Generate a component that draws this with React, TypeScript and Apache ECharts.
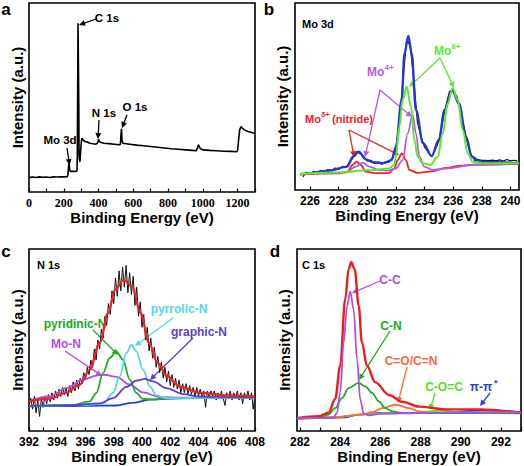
import React, { useEffect, useRef } from "react";
import * as echarts from "echarts";

// ---------- Panel a: survey spectrum [eV, intensity %] ----------
const surveySpectrum: number[][] = [
  [0, 7.6], [20, 7.9], [40, 7.7], [60, 8.0], [80, 7.8], [100, 7.9], [120, 7.7], [140, 8.0], [160, 7.9],
  [180, 8.1], [200, 8.0], [220, 8.1], [224, 9.0], [227, 13], [230, 15.5], [233, 13], [236, 11], [245, 10.9],
  [260, 10.9], [272, 11], [276, 11.2], [278, 20], [280, 55], [282, 89.3], [285, 89.3], [286.5, 45], [288, 19],
  [290, 17.5], [293, 16], [296, 20], [300, 25.5], [304, 28.5], [308, 27.8], [320, 26.8], [335, 26.5],
  [350, 25.8], [370, 25.5], [385, 25.3], [395, 26], [400, 28], [404, 27], [410, 26.3], [430, 25.8],
  [460, 25.6], [490, 25.3], [520, 25], [526, 25.3], [529, 30], [532, 33.5], [535, 27], [540, 25.8],
  [580, 25.3], [620, 24.8], [660, 24.5], [700, 24.1], [740, 23.7], [780, 23.3], [820, 22.9], [860, 22.6],
  [900, 22.3], [940, 22], [960, 21.8], [968, 23], [975, 25], [985, 23], [1000, 22.3], [1040, 22],
  [1080, 21.8], [1120, 21.6], [1160, 21.5], [1195, 21.3], [1200, 22], [1205, 27], [1212, 33], [1220, 34.6],
  [1230, 33.5], [1245, 32.5], [1260, 32], [1280, 31.5], [1300, 31],
];
const surveyLabels = [0, 200, 400, 600, 800, 1000, 1200];
const surveyTicks = [0, 100, 200, 300, 400, 500, 600, 700, 800, 900, 1000, 1100, 1200, 1300];

// ---------- Panel b: Mo 3d ----------
const mo3dRawStart = 225.5;
const mo3dRawStep = 0.25;
const mo3dRawValues = [
  7.0, 9.5, 8.2, 10.0, 9.0, 10.5, 9.6, 11.0, 10.2, 11.8, 11.0, 12.6, 12.0, 14.5, 17.2, 20.6, 19.4, 18.0,
  15.5, 15.9, 14.2, 15.0, 13.8, 15.0, 14.8, 17.2, 22.4, 36.8, 59.4, 80.5, 77.2, 58.8, 36.4, 28.6, 23.0,
  20.2, 17.8, 21.6, 26.0, 36.2, 45.4, 52.8, 52.6, 50.2, 42.4, 34.2, 25.0, 19.1, 15.8, 16.2, 15.8, 15.9,
  15.7, 16.0, 15.6, 16.1, 15.5, 16.3, 15.6, 15.9, 15.4,
];
const mo3dEnvelope: number[][] = [
  [225.3, 8.4], [225.5, 8.6], [227.3, 10.3], [228.6, 12.5], [229.0, 17.8], [229.4, 20.5], [229.9, 16.4],
  [230.4, 14.8], [231.1, 14.3], [231.7, 16], [232.0, 23], [232.4, 48], [232.6, 73], [232.87, 82.4],
  [233.1, 73], [233.4, 42.8], [233.9, 25], [234.5, 18.2], [235.0, 26.7], [235.4, 42.8], [235.93, 53.5],
  [236.4, 46.4], [236.9, 28.5], [237.3, 17.8], [237.9, 15.1], [239.1, 14.8], [240.6, 14.3],
];
const mo3dNitride: number[][] = [
  [225.3, 8.4], [228.0, 8.9], [228.62, 9.8], [228.97, 13.4], [229.25, 15.1], [229.55, 13.4], [229.9, 9.8],
  [230.5, 9.0], [231.5, 9.0], [231.89, 11.6], [232.12, 16.0], [232.42, 19.6], [232.7, 16.0], [232.94, 10.7],
  [233.5, 9.2], [234.5, 10.0], [235.5, 11.8], [236.5, 13.0], [237.5, 13.6], [240.6, 14.0],
];
const mo3dMo4: number[][] = [
  [225.3, 8.6], [228.5, 9.3], [229.2, 12.5], [229.67, 14.6], [230.14, 12.5], [230.84, 10.7], [231.5, 10.5],
  [232.0, 11.5], [232.47, 16.0], [232.82, 30.3], [233.17, 40.1], [233.4, 30.3], [233.64, 17.8],
  [233.99, 12.5], [234.57, 10.7], [235.5, 11.5], [237.5, 13.5], [240.6, 14.2],
];
const mo3dMo6: number[][] = [
  [225.3, 8.6], [228, 9.4], [230, 10.5], [231.5, 11.5], [231.89, 13.4], [232.0, 17.8], [232.24, 33.9],
  [232.47, 48.1], [232.75, 55.3], [233.05, 44.6], [233.29, 26.7], [233.52, 17.8], [233.87, 14.3],
  [234.4, 13.4], [234.92, 17.8], [235.27, 30.3], [235.62, 46.4], [235.97, 54.4], [236.32, 48.1],
  [236.67, 32.1], [237.02, 19.6], [237.37, 15.1], [238.07, 14.3], [240.6, 14.3],
];
const mo3dLabels = [226, 228, 230, 232, 234, 236, 238, 240];

// ---------- Panel c: N 1s ----------
const n1sRawStart = 392;
const n1sRawStep = 0.125;
const n1sRawValues = [
  14, 18, 12, 19, 10, 17, 8, 18, 13, 19, 15, 20, 16, 21, 17, 22, 18, 23, 19, 24, 20, 24, 19, 25, 21, 27,
  22, 28, 23, 29, 26, 32, 28, 35, 31, 39, 35, 45, 39, 50, 45, 56, 51, 63, 58, 70, 64, 77, 70, 84, 74, 88,
  77, 90, 79, 91, 76, 87, 75, 85, 69, 79, 63, 71, 57, 64, 50, 57, 44, 51, 40, 46, 35, 41, 32, 38, 29, 35,
  27, 33, 25, 31, 24, 29, 23, 28, 21, 26, 21, 26, 20, 25, 20, 24, 19, 24, 19, 23, 18, 22, 13, 22, 18, 22,
  19, 22, 17, 21, 18, 22, 18, 14, 21, 18, 22, 17, 21, 18, 22, 17, 21, 15, 21, 18, 22, 17, 21, 12, 20,
];
const n1sEnvelope: number[][] = [
  [392, 16.3], [393.45, 17.8], [394.6, 20.9], [395.6, 25.5], [396.3, 33.7], [397.0, 48.4], [397.6, 64.8],
  [398.1, 77.7], [398.7, 83.1], [399.3, 79.5], [399.9, 64.8], [400.5, 48.4], [401.1, 37.4], [401.8, 30],
  [402.7, 24.2], [404.2, 20.9], [406, 19.6], [408, 19.1],
];
const n1sBackground: number[][] = [
  [392, 13.6], [394, 13.7], [396, 13.8], [398.2, 14.0], [399.3, 15.4], [400.55, 17.2], [402.9, 18.1], [408, 18.5],
];
const n1sMoN: number[][] = [
  [392, 16.3], [393.47, 19.1], [394.65, 23.6], [395.82, 28.2], [396.77, 30.4], [397.36, 30.9], [398.19, 29.7],
  [399.13, 25.5], [400.07, 21.2], [401.25, 18.6], [402.9, 18.3], [404.5, 18.4], [408, 18.6],
];
const n1sPyridinic: number[][] = [
  [392, 13.8], [395, 14.2], [396.3, 16.3], [396.77, 20.9], [397.24, 31.9], [397.71, 40.1], [398.19, 43.8],
  [398.65, 39.2], [399.13, 28.2], [399.6, 20.9], [400.07, 17.6], [400.78, 17.4], [402, 18.0], [408, 18.5],
];
const n1sPyrrolic: number[][] = [
  [392, 13.8], [396, 14.2], [397.24, 15.0], [397.95, 20.9], [398.42, 30.0], [398.9, 42.9], [399.25, 47.4],
  [399.6, 43.8], [400.07, 33.7], [400.55, 24.5], [401.02, 19.6], [401.73, 18.0], [403, 18.2], [408, 18.5],
];
const n1sGraphic: number[][] = [
  [392, 13.8], [395, 14.2], [397.0, 15.2], [397.95, 18.1], [398.9, 24.2], [399.6, 27.7], [400.19, 28.6],
  [400.78, 27.3], [401.73, 23.6], [402.9, 20.3], [404.08, 18.9], [406.44, 18.6], [408, 18.6],
];
const n1sLabels = [392, 394, 396, 398, 400, 402, 404, 406, 408];
const n1sTicks = [392, 393, 394, 395, 396, 397, 398, 399, 400, 401, 402, 403, 404, 405, 406, 407, 408];

// ---------- Panel d: C 1s ----------
const c1sEnvelope: number[][] = [
  [281.85, 7.1], [282.92, 8.1], [283.42, 10], [283.75, 17.6], [284.0, 35.9], [284.25, 72.5], [284.42, 88.9],
  [284.55, 92.7], [284.72, 88.9], [284.92, 68.9], [285.08, 48.7], [285.33, 35.9], [285.75, 26.7],
  [286.42, 19.8], [287.08, 16.1], [287.92, 13.4], [289.25, 11.9], [290.92, 11.9], [293.0, 10],
];
const c1sCC: number[][] = [
  [281.85, 7.1], [283.5, 7.2], [283.67, 7.4], [283.84, 9.9], [284.0, 20.9], [284.17, 48.4], [284.34, 68.5],
  [284.5, 76.7], [284.67, 66.7], [284.84, 39.2], [285.0, 17.2], [285.17, 9.6], [285.42, 8.6], [286, 9.4],
  [288, 9.9], [290, 10.3], [293, 10.3],
];
const c1sCN: number[][] = [
  [281.85, 7.0], [282.5, 7.3], [283.09, 7.7], [283.42, 9.0], [283.75, 12.6], [284.09, 18.1], [284.42, 23.6],
  [284.92, 26.4], [285.25, 24.5], [285.59, 20.9], [285.92, 16.3], [286.25, 12.6], [286.59, 10.8],
  [287.08, 9.9], [289, 9.9], [293, 9.9],
];
const c1sCO: number[][] = [
  [281.85, 6.8], [284, 7.8], [284.5, 8.5], [285.08, 9.0], [285.59, 10.3], [286.09, 12.6], [286.75, 14.5],
  [287.42, 12.6], [287.92, 10.8], [288.42, 9.9], [290, 9.9], [293, 9.9],
];
const c1sCOC: number[][] = [
  [281.85, 6.8], [284, 7.8], [285, 9.0], [286, 9.8], [287.59, 9.9], [288.42, 10.8], [289.09, 11.2],
  [289.75, 10.5], [290.42, 9.9], [293, 9.7],
];
const c1sPiPi: number[][] = [
  [281.85, 6.7], [283.5, 7.2], [284.25, 7.5], [284.92, 9.0], [285.92, 9.9], [288, 9.9], [289.25, 9.9],
  [290.09, 10.8], [291.09, 11.5], [291.75, 11.2], [293, 10.3],
];
const c1sLabels = [282, 284, 286, 288, 290, 292];
const c1sTicks = [282, 283, 284, 285, 286, 287, 288, 289, 290, 291, 292, 293];

const SANS = '"Liberation Sans", Arial, sans-serif';
const SERIF = '"Liberation Serif", "Times New Roman", serif';

function arrow(x1: number, y1: number, x2: number, y2: number, color: string, w = 1.3) {
  const dx = x2 - x1, dy = y2 - y1;
  const len = Math.sqrt(dx * dx + dy * dy);
  const ux = dx / len, uy = dy / len;
  const nx = -uy, ny = ux;
  const L = 6, W = 3;
  const bx = x2 - L * ux, by = y2 - L * uy;
  return [
    { type: "line", silent: true, shape: { x1, y1, x2: x2 - L * 0.7 * ux, y2: y2 - L * 0.7 * uy }, style: { stroke: color, lineWidth: w } },
    { type: "polygon", silent: true, shape: { points: [[x2, y2], [bx + W * nx, by + W * ny], [bx - W * nx, by - W * ny]] }, style: { fill: color } },
  ];
}

function txt(x: number, y: number, text: string, color: string, size: number, align = "center") {
  return {
    type: "text", silent: true, x, y,
    style: { text, fill: color, font: `bold ${size}px ${SANS}`, align, verticalAlign: "middle" },
  };
}

function xAxis(grid: number, min: number, max: number, labels: number[], ticks: number[], name: string, serif = false) {
  return {
    type: "value", gridIndex: grid, min, max,
    name, nameLocation: "middle", nameGap: 17,
    nameTextStyle: { fontSize: 15, fontWeight: "bold", color: "#000", fontFamily: SANS },
    axisLine: { show: false },
    axisTick: { show: true, inside: true, length: 3.5, customValues: ticks, lineStyle: { color: "#000", width: 1.2 } },
    axisLabel: {
      show: true, customValues: labels, margin: 5, fontSize: 12, fontWeight: "bold", color: "#000",
      fontFamily: serif ? SERIF : SANS, formatter: (v: number) => String(v),
    },
    splitLine: { show: false },
  };
}

function yAxis(grid: number, gap: number) {
  return {
    type: "value", gridIndex: grid, min: 0, max: 100,
    name: "Intensity (a.u.)", nameLocation: "middle", nameGap: gap,
    nameTextStyle: { fontSize: 15, fontWeight: "bold", color: "#000", fontFamily: SANS },
    axisLine: { show: false }, axisTick: { show: false }, axisLabel: { show: false }, splitLine: { show: false },
  };
}

function line(idx: number, data: number[][], color: string, width: number, smooth: number | boolean = 0.35) {
  return {
    type: "line", xAxisIndex: idx, yAxisIndex: idx, data, showSymbol: false, symbol: "none",
    smooth, smoothMonotone: "x", lineStyle: { color, width }, silent: true,
  };
}

export default function App() {
  const ref = useRef<HTMLDivElement>(null);
  useEffect(() => {
    if (!ref.current) return;
    const chart = echarts.init(ref.current, null, { renderer: "svg" });
    const mo3dRaw = mo3dRawValues.map((v, i) => [mo3dRawStart + i * mo3dRawStep, v]);
    const n1sRaw = n1sRawValues.map((v, i) => [n1sRawStart + i * n1sRawStep, v]);

    const gridStyle = { show: true, borderColor: "#000", borderWidth: 1.6, backgroundColor: "transparent" };
    const graphics: any[] = [
      txt(6, 9, "a", "#000", 17), txt(269, 9, "b", "#000", 17),
      txt(6, 251, "c", "#000", 17), txt(275, 251, "d", "#000", 17),
      // panel a
      txt(107, 18, "C 1s", "#000", 11.5), ...arrow(96, 19, 79, 25, "#000"),
      txt(104, 113, "N 1s", "#000", 11.5), ...arrow(99, 120, 98, 139, "#000"),
      txt(135, 107, "O 1s", "#000", 11.5), ...arrow(127, 115, 122, 128, "#000"),
      txt(60, 140, "Mo 3d", "#000", 11.5), ...arrow(67, 148, 69.5, 165, "#000"),
      // panel b
      txt(302, 23.5, "Mo 3d", "#000", 11, "left"),
      txt(434, 51, "Mo", "#5be82c", 12, "left"), txt(451.5, 46, "6+", "#5be82c", 8, "left"),
      ...arrow(440, 58, 409, 87, "#5be82c"), ...arrow(440, 58, 454, 88, "#5be82c"),
      txt(367, 72, "Mo", "#b45ce8", 12, "left"), txt(384.5, 67, "4+", "#b45ce8", 8, "left"),
      ...arrow(380, 90, 365, 157, "#b45ce8"), ...arrow(380, 90, 412, 117, "#b45ce8"),
      txt(305, 119, "Mo", "#ee2222", 11, "left"), txt(321, 114, "δ+", "#ee2222", 7.5, "left"),
      txt(329, 119, " (nitride)", "#ee2222", 11, "left"),
      ...arrow(349, 130, 354, 157, "#ee2222"), ...arrow(349, 130, 399, 155, "#ee2222"),
      // panel c
      txt(37, 264.5, "N 1s", "#000", 11, "left"),
      txt(179, 309, "pyrrolic-N", "#55d6ee", 12), ...arrow(173, 318, 135, 346, "#55d6ee"),
      txt(75, 324, "pyridinic-N", "#22aa22", 12), ...arrow(93, 330, 118, 355, "#22aa22"),
      txt(199, 332, "graphic-N", "#5a3fc8", 12), ...arrow(193, 338, 150, 380, "#5a3fc8"),
      txt(66, 344, "Mo-N", "#b04ee8", 12), ...arrow(65, 351, 102, 376, "#b04ee8"),
      // panel d
      txt(302, 264.5, "C 1s", "#000", 11, "left"),
      txt(390, 280, "C-C", "#b04ee8", 12), ...arrow(380, 281, 352, 293, "#b04ee8"),
      txt(391, 326, "C-N", "#22aa22", 12), ...arrow(390, 331, 359, 380, "#22aa22"),
      txt(411, 361, "C=O/C=N", "#ff6a3d", 12), ...arrow(407, 367, 398, 403, "#ff6a3d"),
      txt(444, 387, "C-O=C", "#55e02a", 12), ...arrow(435, 393, 430, 410, "#55e02a"),
      txt(481, 387, "π-π", "#2a3ed8", 12), txt(494, 383, "*", "#2a3ed8", 9, "left"),
      ...arrow(490, 393, 480, 406, "#2a3ed8"),
    ];

    chart.setOption({
      animation: false,
      grid: [
        { left: 29, top: 3, width: 226, height: 189, ...gridStyle },
        { left: 295, top: 3, width: 224, height: 187, ...gridStyle },
        { left: 29, top: 249, width: 226, height: 182, ...gridStyle },
        { left: 297, top: 249, width: 224, height: 182, ...gridStyle },
      ],
      xAxis: [
        xAxis(0, 0, 1300, surveyLabels, surveyTicks, "Binding Energy (eV)", true),
        xAxis(1, 224.95, 240.6, mo3dLabels, mo3dLabels, "Binding Energy (eV)"),
        xAxis(2, 392, 408, n1sLabels, n1sTicks, "Binding energy (eV)"),
        xAxis(3, 281.85, 293, c1sLabels, c1sTicks, "Binding Energy (eV)"),
      ],
      yAxis: [yAxis(0, 4), yAxis(1, 5), yAxis(2, 4), yAxis(3, 5)],
      graphic: graphics,
      series: [
        line(0, surveySpectrum, "#000", 1.6, false),
        line(1, mo3dRaw, "#111", 1.2, false),
        line(1, mo3dEnvelope, "#2238d8", 2.4),
        line(1, mo3dNitride, "#ee2222", 1.8),
        line(1, mo3dMo4, "#b45ce8", 1.8),
        line(1, mo3dMo6, "#5be82c", 2),
        line(2, n1sRaw, "#111", 1, false),
        line(2, n1sBackground, "#2244cc", 1.8),
        line(2, n1sMoN, "#b04ee8", 1.8),
        line(2, n1sPyridinic, "#22aa22", 1.8),
        line(2, n1sPyrrolic, "#55d6ee", 1.8),
        line(2, n1sGraphic, "#5a3fc8", 1.8),
        line(2, n1sEnvelope, "#ee2222", 2.2),
        line(3, c1sPiPi, "#2a3ed8", 1.8),
        line(3, c1sCOC, "#55e02a", 1.8),
        line(3, c1sCO, "#ff6a3d", 1.8),
        line(3, c1sCN, "#22aa22", 1.8),
        line(3, c1sEnvelope, "#ee1c1c", 2.4),
        line(3, c1sCC, "#b04ee8", 1.8),
      ],
    });
    return () => chart.dispose();
  }, []);
  return (
    <div
      ref={ref}
      style={{ position: "absolute", left: 0, top: 0, width: 524, height: 466, background: "#fff" }}
    />
  );
}
